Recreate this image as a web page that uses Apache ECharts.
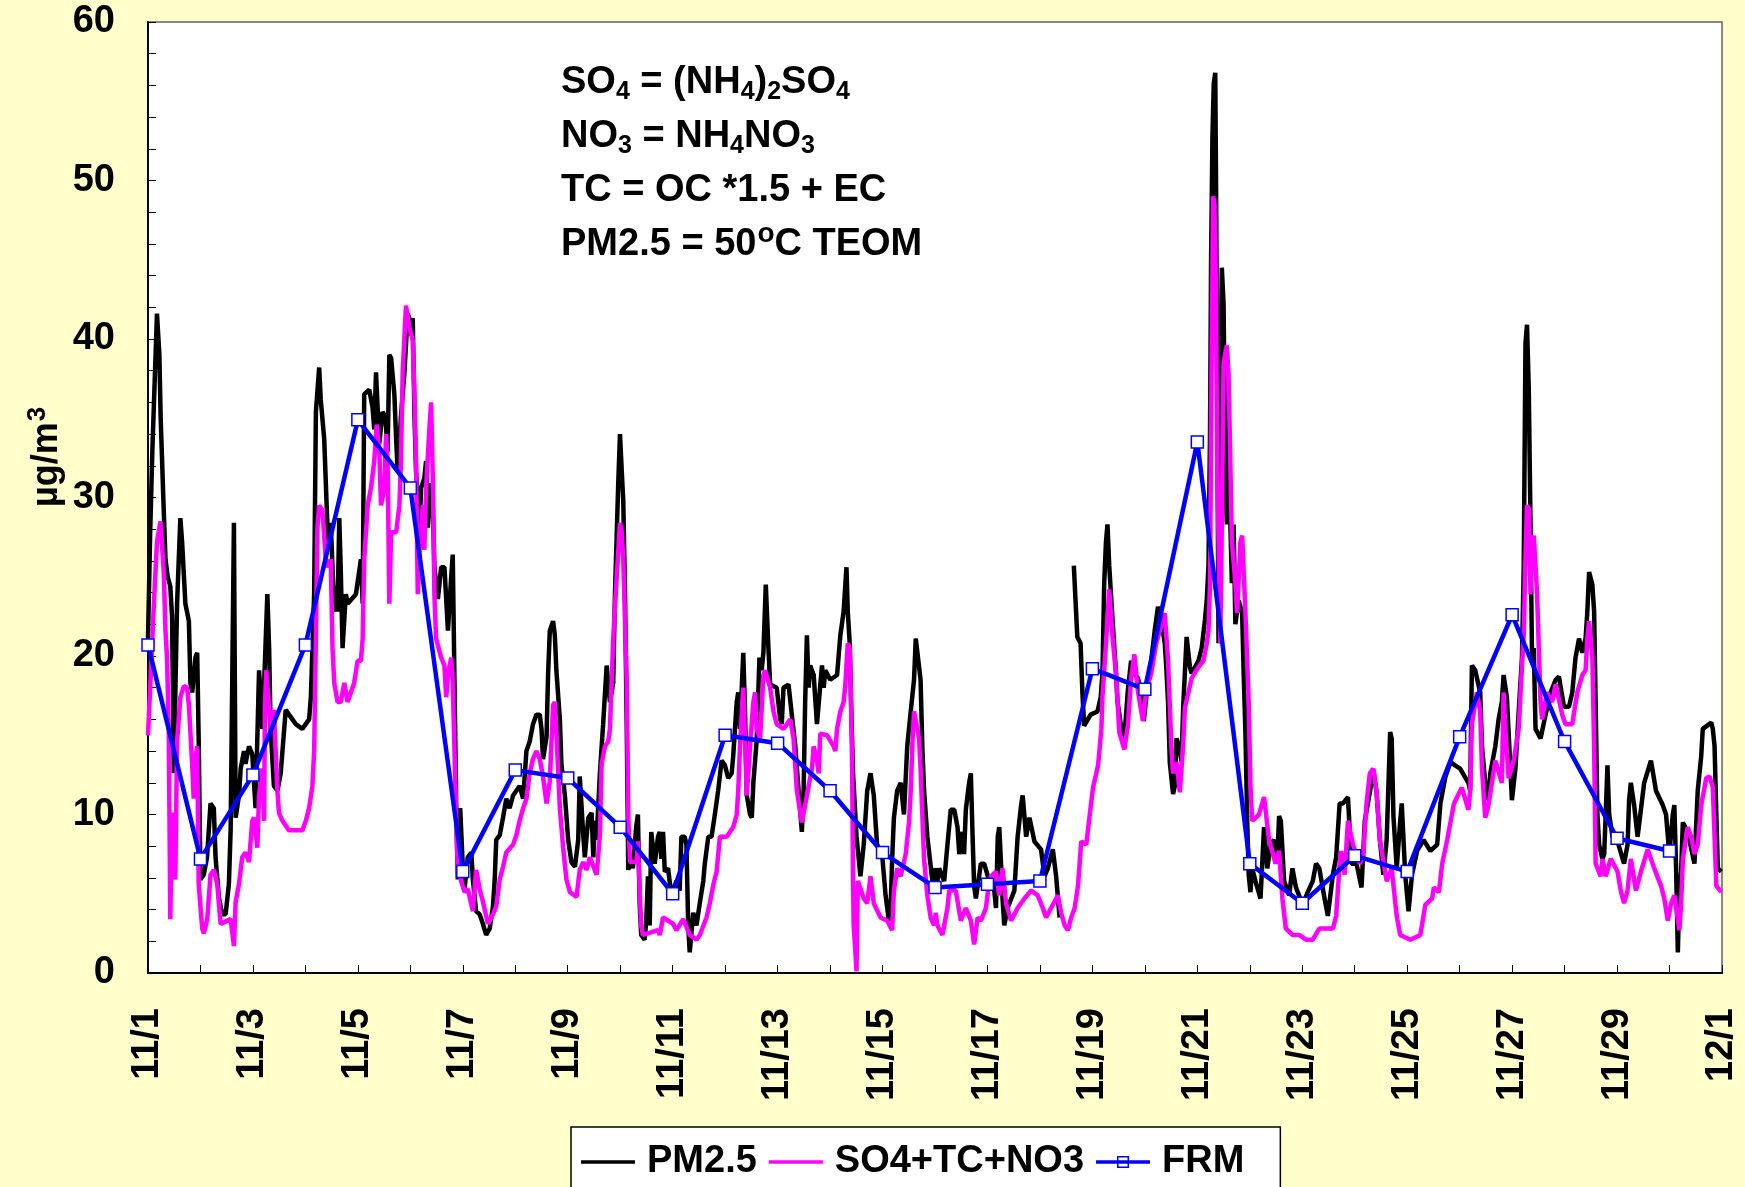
<!DOCTYPE html>
<html>
<head>
<meta charset="utf-8">
<script src="https://cdn.jsdelivr.net/npm/echarts@6/dist/echarts.min.js"></script>
<style>
html,body{margin:0;padding:0;background:#FFFFCC;}
#chart{width:1745px;height:1187px;}
</style>
</head>
<body>
<div id="chart"></div>
<script>
// x positions are hours since 11/1 00:00
const tickLabels = ['11/1','11/3','11/5','11/7','11/9','11/11','11/13','11/15','11/17','11/19','11/21','11/23','11/25','11/27','11/29','12/1'];

const pm25 = [
[0,21.1],[1,27.8],[2,33],[4.1,41.6],[5.2,39],[5.8,35],[7,30],[8,26.1],[9,25],[10.2,24.4],[11,22.5],[11.8,12.6],[13.3,23.3],[14.8,28.7],[15.6,27.2],[17.1,23.3],[18.7,22.2],[19.4,18.3],[20.2,17.7],[21.7,19.9],[22.5,20.2],[23.2,14.6],[24,5.9],[25.5,6.2],[27,7.3],[28.6,10.7],[30.1,10.4],[30.9,7.3],[32.4,4.8],[33.9,3.7],[35.5,3.7],[37,5.6],[37.8,9.0],[38.5,9.0],[39.3,28.4],[40.1,9.8],[41.6,11.2],[42.4,12.9],[43.9,14.0],[44.6,13.2],[46.2,14.3],[47.7,13.8],[49.2,10.4],[50.8,19.1],[52.3,15.4],[53.5,19.7],[54.6,23.9],[55.4,20.5],[56.1,15.4],[57.6,11.8],[59.2,11.5],[60.7,12.6],[61.5,14.0],[63,16.6],[64.5,16.3],[67.6,15.7],[70.6,15.4],[73.7,16.0],[74.5,17.4],[76,23.9],[76.8,35.4],[78.3,38.2],[79,36.2],[80.6,33.7],[82.1,28.1],[82.9,26.7],[83.6,28.4],[85.2,22.8],[85.9,24.4],[86.7,22.8],[87.5,28.7],[88.2,25.3],[89,20.5],[90.5,23.9],[91.3,23.3],[95.1,23.9],[97.4,26.1],[98.2,23.3],[98.9,36.5],[101.2,36.8],[102.7,35.7],[103.5,34.3],[104.3,37.9],[105.8,33.4],[107.3,35.4],[108.6,35.1],[109.6,32.9],[110.4,39.0],[111.2,38.8],[112.7,36.5],[113.5,33.7],[114.2,31.7],[115.7,35.1],[117.3,37.9],[118.8,41.6],[120.3,41.0],[121.1,41.3],[121.9,35.1],[122.6,31.7],[124.2,27.8],[124.9,30.6],[126.4,31.2],[127.2,32.3],[128,28.1],[129.5,30.9],[130.3,29.5],[131,25.6],[132.6,23.6],[134.1,25.6],[135.6,25.6],[137.2,21.6],[138.7,25.0],[139.4,26.4],[140.2,18.3],[141,10.4],[141.7,5.9],[142.8,10.4],[144,6.7],[144.8,5.3],[146.3,7.3],[147.9,7.6],[148.6,5.9],[150.1,3.9],[151.7,3.7],[153.2,3.1],[154.7,2.4],[156.3,2.8],[157.8,4.2],[158.6,5.9],[159.3,8.4],[160.9,8.7],[162.4,9.8],[163.9,11.0],[165.4,10.4],[167,11.2],[170,11.8],[171.6,11.0],[173.1,14.0],[174.6,14.6],[176.1,15.7],[177.7,16.3],[179.2,16.3],[180,15.4],[180.7,13.5],[182.3,14.9],[183,18.8],[183.8,21.6],[185.3,22.2],[186.1,21.3],[186.8,19.1],[188.4,16.0],[189.1,13.2],[190.7,11.2],[192.2,8.4],[193.7,7.0],[195.3,6.7],[196.8,8.4],[197.5,12.4],[199.1,8.7],[199.8,7.3],[201.4,9.8],[202.9,10.1],[203.7,7.3],[204.4,9.6],[205.2,8.4],[206.7,12.6],[208.2,15.7],[209.8,19.4],[210.5,19.4],[211.3,17.1],[212.8,18.3],[213.6,23.9],[215.1,30.9],[215.9,34.0],[216.7,31.7],[217.4,29.8],[218.2,23.9],[219,15.4],[219.7,6.5],
[221,7.5],[221.8,6.6],[223.3,9.2],[224.1,10.0],[224.9,4.4],[225.6,2.4],[227.2,2.1],[227.9,3.3],[228.7,6.1],[229.5,3.0],[230.2,8.9],[231.8,6.9],[233.3,8.6],[234.1,8.9],[234.8,7.2],[235.6,8.9],[236.4,6.4],[237.9,6.6],[239.4,4.9],[241.7,5.8],[243.2,5.2],[244,8.6],[245.5,8.6],[246.3,8.1],[247.1,3.0],[247.8,1.3],[249.4,3.8],[250.9,3.0],[252.4,4.4],[254,5.8],[254.7,6.9],[256.3,8.6],[257.8,8.6],[259.3,10.0],[260.8,11.5],[262.4,13.4],[263.9,13.1],[265.4,12.3],[267,12.6],[267.7,13.7],[269.3,17.1],[270,17.7],[270.8,15.4],[271.6,15.4],[272.3,20.2],[273.1,16.5],[273.9,11.2],[275.4,10.0],[276.2,9.8],[276.9,12.0],[278.4,14.6],[279.7,19.9],[280.7,19.1],[281.5,20.2],[282.6,24.5],[283,24.5],[283.8,20.5],[284.6,18.2],[287.6,18.0],[289.2,16.0],[289.9,15.7],[290.7,18.0],[293,18.2],[294.5,16.3],[296.1,14.3],[297.6,11.5],[299.1,8.9],[299.9,11.5],[300.6,17.1],[301.4,21.3],[302.2,18.0],[302.9,19.4],[304.5,18.8],[306,15.7],[306.8,15.7],[308.3,19.4],[309.1,18.0],[309.8,19.1],[312.1,18.5],[315.2,18.8],[316.7,21.3],[318.2,22.8],[319.5,25.6],[320.1,22.8],[321,20.8],[321.6,17.1],[322.5,12.6],[324.1,8.6],[325.9,6.1],[327.4,8.1],[329,11.5],[330.5,12.6],[332,11.2],[333.5,8.1],[335.8,7.5],[337.4,4.9],[338.9,3.3],[339.7,4.1],[340.4,7.2],[341.2,9.8],[342.7,11.5],[344.3,12.0],[345.8,10.0],[347.3,14.3],[348.9,16.5],[350.4,18.5],[351.2,21.1],[351.9,21.1],[353.4,18.5],[354.2,14.3],[355,11.5],[356.5,8.6],[358.8,5.8],[360.3,6.6],[361.1,5.8],[361.9,6.6],[364.2,5.8],[365.7,8.1],[367.2,10.3],[368.8,10.3],[370.3,9.2],[371.1,7.5],[372.6,8.9],[373.3,7.5],[374.1,10.3],[375.6,12.0],[376.4,12.6],[377.2,8.6],[377.9,5.5],[378.7,4.7],[381,6.9],[382.5,6.9],[384.8,5.8],[387.1,5.2],[387.9,4.1],[388.7,8.6],[389.4,9.2],[390.2,6.9],[390.9,4.7],[391.7,3.0],[393.2,4.1],[396.3,5.2],[397.8,8.6],[399.4,10.6],[400.1,11.2],[401.7,8.6],[403.2,9.8],[405.5,8.3],[408.5,7.8],[410.1,6.1],[411.6,6.6],[413.9,7.8],[415.4,6.1],[417,3.5],[420,null],
[423.5,25.7],[425.1,21.2],[426.6,20.8],[427.4,17.8],[428.2,15.6],[431.2,16.3],[434.3,16.5],[435.8,17.4],[436.6,18.9],[437.4,24.6],[438.2,27.2],[438.9,28.3],[439.7,25.7],[441.2,22.3],[442.8,18.9],[443.5,17.1],[445.1,15.6],[446.6,14.8],[448.2,17.8],[449.7,19.7],[451.2,18.9],[452.8,18.6],[454.3,17.8],[455.5,15.9],[456.6,17.4],[458.2,18.9],[460.5,21.6],[462,23.1],[463.5,22.3],[465.1,20.8],[465.8,19.3],[466.6,17.1],[467.4,13.3],[468.9,11.3],[469.7,11.8],[470.5,14.8],[472,14.1],[472.8,13.3],[473.5,16.7],[475.1,21.2],[476.6,19.3],[477.4,18.9],[480.5,19.7],[482,20.5],[483.5,22.3],[484.3,23.5],[485.1,25.7],[485.8,34.0],[486.3,45.2],[486.9,52.7],[487.5,56.1],[488.2,56.8],[488.6,49.0],[489.1,35.8],[489.7,20.8],[490.5,35.8],[491.2,44.5],[492,42.2],[492.8,32.1],[493.5,28.3],[494.3,35.8],[495.1,28.3],[495.8,24.6],[496.6,28.3],[497.4,22.0],[498.9,23.5],[500.5,22.7],[501.2,18.9],[502,15.2],[502.8,9.6],[503.5,6.2],[504.3,5.1],[505.1,6.6],[506.6,5.8],[508.9,4.7],[510.5,9.2],[512,6.6],[513.5,8.1],[515.1,8.4],[516.6,7.3],[517.4,9.9],[518.2,9.6],[519.7,5.8],[522,4.9],[523.5,6.6],[525.1,5.4],[528.2,4.3],[530.5,5.1],[532.8,5.8],[534.3,6.9],[535.8,6.6],[538.2,4.7],[539.7,3.6],[542,6.2],[543.5,7.3],[545.1,10.7],[546.6,10.7],[548.9,11.1],[550.5,6.9],[552.8,6.9],[555.1,5.4],[556.6,9.6],[558.9,11.4],[560.5,12.8],[562,11.4],[563.5,8.4],[565.1,6.2],[566.6,8.4],[568.2,15.2],[568.9,14.8],[569.7,9.9],[571.2,6.6],[572.8,9.6],[573.5,10.7],[575.1,6.2],[576.6,3.9],[578.2,6.2],[580.5,7.7],[583.5,8.4],[586.6,7.7],[589.7,8.1],[591.2,10.7],[593.5,12.4],[595.8,13.3],
[597.9,13.1],[600.2,12.9],[604,12.0],[604.8,11.5],[605.6,19.4],[607.1,19.1],[609.4,17.7],[610.2,14.3],[611.7,12.0],[613.2,10.9],[614,12.6],[616.3,14.3],[617.8,16.0],[619.3,17.1],[620.1,18.8],[621.6,17.4],[623.2,12.9],[623.9,10.9],[625.5,12.9],[627,16.5],[628.5,19.9],[629.3,25.6],[630.1,39.7],[630.8,40.9],[631.6,36.9],[632.4,28.4],[633.1,19.9],[633.9,20.5],[634.7,15.4],[637,14.8],[639.3,16.3],[641.6,17.7],[643.9,18.5],[645.4,18.7],[647.7,16.8],[650,16.8],[651.5,17.7],[653,19.9],[654.6,21.1],[656.1,20.2],[657.6,21.1],[658.4,22.8],[659.2,25.3],[660.7,24.5],[661.5,22.8],[662.2,17.1],[663,10.0],[663.8,8.1],[665.3,7.2],[666.1,7.5],[666.8,10.0],[667.6,13.1],[668.4,10.0],[669.9,8.6],[672.2,8.3],[675.2,6.9],[676.8,8.1],[677.5,10.9],[678.3,12.0],[679.8,10.6],[681.4,8.6],[682.9,10.3],[684.4,12.0],[687.5,13.4],[689.8,11.5],[692.9,10.6],[694.4,10.0],[695.9,7.5],[697.5,10.0],[698.2,10.6],[699,6.6],[699.8,1.3],[700.5,5.2],[701.3,6.4],[702.1,9.5],[704.3,8.9],[707.4,6.9],[708.9,11.5],[710.5,13.7],[711.2,15.4],[715.1,15.8],[715.8,15.4],[716.6,14.3],[717.4,10.0],[718.1,6.6],[719.7,6.4]
];

const so4tcno3 = [
[0,15.0],[1.1,18.3],[2.6,23.0],[4.1,27.2],[5.7,28.5],[6.4,28.4],[7.2,25.3],[8,21.6],[8.7,19.9],[9.5,15.4],[10.2,3.4],[11,9.8],[11.8,10.1],[12.5,5.9],[13.3,14.6],[14.8,17.4],[16.4,18.1],[17.9,18.0],[18.7,16.9],[20.2,13.2],[20.9,11.0],[21.7,13.5],[22.5,14.3],[23.2,5.6],[24.8,2.8],[25.5,2.5],[27.1,3.4],[28.6,6.2],[30.1,6.5],[31.7,5.6],[33.2,3.1],[37.8,3.4],[39.3,1.7],[40.1,4.5],[41.6,5.6],[43.1,7.3],[44.6,7.6],[46.2,7.0],[47.7,9.6],[48.5,9.8],[50,7.9],[50.8,11.2],[52.3,12.9],[53.1,9.6],[53.5,16.9],[54.1,19.1],[55.4,16.6],[56.1,15.4],[57.6,16.6],[58.4,14.0],[59.2,11.5],[59.9,10.1],[61.5,9.6],[64.5,9.0],[67.6,9.0],[70.6,9.0],[72.2,9.6],[73.7,10.4],[75.2,11.8],[76,14.0],[76.8,21.1],[77.5,28.1],[78.3,29.5],[79.8,29.2],[81.3,26.1],[82.1,25.6],[83.6,26.1],[84.4,20.5],[85.2,18.3],[86.7,17.1],[88.2,17.1],[89.8,18.3],[91.3,17.1],[92.8,17.7],[94.3,18.3],[95.9,19.7],[97.4,19.7],[98.2,21.1],[98.9,26.1],[100.5,29.5],[102,30.6],[103.5,32.3],[104.6,34.6],[105.8,32.9],[106.6,29.5],[108.1,30.6],[108.9,34.0],[109.6,32.3],[110.4,23.3],[111.2,27.8],[113.5,27.8],[115,29.5],[115.7,32.3],[116.5,37.9],[118,42.1],[119.6,40.7],[121.1,39.9],[121.9,36.5],[122.6,32.3],[123.4,23.9],[124.2,26.7],[125.7,29.5],[126.4,26.7],[127.2,30.6],[128.7,34.3],[129.5,36.0],[130.3,31.2],[131,23.9],[131.8,21.1],[134.1,19.9],[135.6,19.4],[136.4,17.4],[137.2,18.8],[138.7,19.9],[139.4,18.3],[140.2,14.0],[141,9.8],[141.7,6.5],[144.8,5.1],[146.3,5.3],[148.6,3.9],[150.1,6.5],[151.7,5.3],[153.2,4.5],[155.5,3.1],[157.8,3.7],[159.3,4.2],[160.9,5.9],[162.4,6.7],[163.9,7.6],[167,8.1],[168.5,8.7],[170,9.6],[171.6,10.4],[173.1,11.0],[174.6,12.6],[176.1,13.5],[177.7,14.0],[179.2,13.5],[180.7,12.4],[182.3,10.7],[183.8,12.1],[185.3,16.9],[186.1,17.1],[186.8,15.2],[188.4,10.4],[189.9,7.9],[191.4,5.9],[193,5.1],[196,4.8],[197.5,6.5],[199.1,7.0],[200.6,6.5],[202.1,7.3],[205.2,6.2],[206.7,8.7],[207.5,13.2],[209,14.3],[210.5,14.6],[211.3,15.4],[212.8,21.1],[214.4,25.0],[215.9,28.4],[216.7,27.8],[217.4,26.1],[219,18.3],[219.7,9.8],[220.5,7.0],[223.5,7.0],
[224.1,8.3],[224.9,5.2],[225.6,3.0],[226.4,2.4],[233.3,2.7],[234.1,2.4],[235.6,3.5],[240.2,3.1],[241.7,2.7],[244.8,3.4],[247.8,2.4],[250.9,2.1],[252.4,2.4],[255.5,3.5],[257,4.4],[258.5,5.5],[260.1,6.4],[261.6,8.6],[264.7,8.6],[267.7,9.2],[269.3,10.0],[270,11.5],[270.8,14.3],[271.6,16.3],[272.3,18.0],[273.1,14.8],[273.9,11.2],[275.4,14.3],[276.9,17.1],[277.7,17.7],[278.4,15.4],[280,14.8],[281.5,18.8],[282.3,19.1],[284.6,18.0],[286.1,16.5],[287.6,15.7],[290.7,15.4],[293.8,16.0],[295.3,14.8],[296.8,11.5],[299.1,9.5],[301.4,11.2],[303.7,12.9],[304.5,14.3],[306,13.4],[306.8,12.6],[307.5,15.1],[310.6,15.0],[313.7,14.3],[314.4,14.0],[315.2,15.4],[316.7,16.5],[318.2,17.1],[319,18.2],[320.1,20.8],[321,20.5],[321.6,17.1],[322.1,12.9],[322.5,5.8],[322.8,3.0],[323.6,1.3],[324.1,0.1],[324.7,5.8],[325.6,5.8],[327.4,4.7],[329,4.4],[330.5,6.1],[332,4.4],[335.1,3.5],[338.1,3.3],[340.4,2.7],[341.2,5.2],[342.7,6.6],[344.3,6.1],[346.6,7.5],[348.1,9.5],[348.9,11.5],[349.6,14.3],[350.4,16.5],[351.9,15.4],[352.7,14.8],[353.4,12.9],[354.2,10.0],[355,7.2],[356.5,4.9],[358,3.5],[359.6,3.0],[360.3,3.8],[361.1,3.0],[363.4,2.4],[364.2,2.4],[365.7,4.1],[366.5,5.2],[369.5,5.2],[371.8,3.3],[374.1,4.1],[376.4,3.3],[377.9,1.8],[379.5,3.5],[381,3.3],[383.3,4.1],[384.8,5.8],[385.6,6.1],[387.9,6.4],[389.4,4.9],[390.9,6.6],[392.5,4.4],[394.8,3.3],[397.8,4.1],[400.9,4.7],[404,5.2],[407,4.9],[409.3,4.1],[410.8,3.5],[413.1,4.1],[416.2,4.9],[417.7,3.8],[419.3,3.0],[420.8,2.7],[422.3,3.5],[423.9,4.1],[425.4,5.5],[426.9,8.3],[429.2,8.1],[430.8,10.0],[432.3,11.7],[434.6,13.1],[436.1,15.4],
[436.6,17.4],[438.2,20.8],[439.7,24.2],[441.2,21.2],[442.8,18.9],[444.3,15.2],[446.6,14.1],[448.2,15.6],[449.7,18.6],[451.2,20.1],[452.8,17.8],[455.1,15.9],[456.6,17.8],[458.9,18.9],[461.2,20.8],[464.3,22.3],[465.1,22.7],[466.6,19.7],[468.2,14.1],[468.9,12.6],[470.5,13.3],[472,11.4],[473.5,14.4],[474.3,16.7],[477.4,18.6],[480.5,19.3],[482.8,19.7],[484.3,20.8],[485.1,21.6],[485.8,24.6],[486.6,39.6],[487.2,49.0],[487.8,48.6],[488.5,43.3],[489.1,32.1],[490.5,20.8],[491.2,28.3],[492,38.5],[493.5,39.6],[494.3,37.7],[495.1,32.1],[495.8,27.2],[497.4,24.6],[498.2,22.7],[499.7,27.2],[500.5,27.6],[502,22.7],[503.5,17.1],[504.3,11.8],[505.1,9.6],[508.2,10.0],[510.5,11.1],[512.8,8.4],[515.8,6.9],[517.4,7.7],[518.9,4.7],[520.5,2.8],[523.5,2.4],[526.6,2.4],[529.7,2.1],[532.8,2.1],[535.8,2.8],[538.9,2.8],[542,2.8],[543.5,3.6],[545.1,6.9],[545.8,7.7],[547.4,6.2],[548.9,9.6],[551.2,8.1],[554.3,6.9],[555.8,7.3],[557.4,10.7],[558.9,12.6],[560.5,12.9],[562,11.4],[563.5,8.4],[566.6,5.8],[568.9,6.6],[571.2,3.6],[572.8,2.4],[577.4,2.1],[582,2.4],[584.3,4.3],[587.4,4.7],[588.2,5.4],[590.5,5.1],[592,6.9],[594.3,8.4],[597.4,10.7],
[601,11.7],[604,10.3],[604.8,11.5],[605.6,15.7],[607.9,17.7],[609.4,16.5],[610.2,12.9],[611.7,9.8],[613.2,10.6],[616.3,13.4],[619.3,12.0],[620.1,17.7],[620.9,15.4],[622.4,12.3],[624.7,13.4],[627,15.4],[628.5,19.4],[629.3,21.3],[630.1,26.2],[630.8,29.5],[631.6,29.3],[632.4,23.9],[633.1,27.0],[633.9,27.6],[635.4,23.9],[637,17.1],[637.7,16.0],[640,17.7],[642.3,17.1],[643.9,18.2],[646.9,16.3],[648.4,15.7],[651.5,15.7],[653.8,17.7],[656.1,18.8],[657.6,19.1],[658.4,21.1],[659.2,22.2],[660.7,19.9],[661.5,14.3],[662.2,6.9],[664.5,6.1],[665.3,7.2],[666.8,6.1],[669.1,7.2],[672.2,6.4],[673.7,5.2],[675.2,4.4],[676.8,5.2],[678.3,7.2],[680.6,5.2],[682.9,6.4],[686,7.8],[689,6.6],[692.1,5.5],[693.6,4.7],[695.2,3.3],[696.7,4.4],[698.2,4.9],[700.5,2.7],[701.3,4.4],[702.1,7.2],[704.3,9.2],[705.9,8.6],[707.4,7.5],[708.9,8.1],[710.5,10.6],[712.8,12.3],[714.3,12.4],[715.8,11.7],[716.6,8.6],[717.4,5.5],[719.7,5.1]
];

const frmHours = [0,24,48,72,96,120,144,168,192,216,240,264,288,312,336,360,384,408,432,456,480,504,528,552,576,600,624,648,672,696];
const frmValues = [20.7,7.2,12.5,20.7,34.9,30.6,6.4,12.8,12.3,9.2,5.0,15.0,14.5,11.5,7.6,5.4,5.6,5.8,19.2,17.9,33.5,6.9,4.4,7.4,6.4,14.9,22.6,14.6,8.5,7.7];

const FONT = '"Liberation Sans", Arial, Helvetica, sans-serif';
// legend glyphs: a plain line, and a line through a hollow square
const LINE_ICON = 'path://M0,0L0.01,0L0.01,0.01Z M0,5.25L54,5.25L54,8.75L0,8.75Z M0,14L0.01,14L0.01,13.99Z';
const FRM_ICON = 'path://M0,0L0.01,0L0.01,0.01Z M0,5.25L54,5.25L54,8.75L0,8.75Z M21,1L33,1L33,13L21,13Z M22.5,2.5L22.5,11.5L31.5,11.5L31.5,2.5Z M0,14L0.01,14L0.01,13.99Z';

const chart = echarts.init(document.getElementById('chart'), null, {renderer: 'canvas'});

const option = {
  backgroundColor: '#FFFFCC',
  animation: false,
  grid: {left: 148, right: 23, top: 22, bottom: 214, show: true, backgroundColor: '#FFFFFF', borderColor: '#606060', borderWidth: 1.5},
  xAxis: {
    type: 'value', min: 0, max: 720, interval: 24,
    axisLine: {onZero: false, lineStyle: {color: '#000', width: 2}},
    axisTick: {show: true, inside: true, length: 8, lineStyle: {color: '#000', width: 1}},
    splitLine: {show: false},
    axisLabel: {
      rotate: 90, margin: 35, fontSize: 38, fontWeight: 'bold', fontFamily: FONT, color: '#000',
      formatter: function (v) { return (v % 48 === 0) ? tickLabels[v / 48] : ''; }
    }
  },
  yAxis: {
    type: 'value', min: 0, max: 60, interval: 10,
    axisLine: {show: true, lineStyle: {color: '#000', width: 2}},
    axisTick: {show: true, inside: true, length: 8, lineStyle: {color: '#000', width: 1}},
    minorTick: {show: true, splitNumber: 5, length: 8, lineStyle: {color: '#000', width: 1}},
    splitLine: {show: false},
    axisLabel: {margin: 33, fontSize: 38, fontWeight: 'bold', fontFamily: FONT, color: '#000'}
  },
  legend: {
    left: 571, top: 1127, orient: 'horizontal',
    itemWidth: 54, itemHeight: 14, itemGap: 12,
    padding: [16, 36, 40, 10],
    backgroundColor: '#FFFFFF', borderColor: '#000', borderWidth: 1.5, borderRadius: 0,
    itemStyle: {borderWidth: 0},
    textStyle: {fontSize: 38, fontWeight: 'bold', fontFamily: FONT, color: '#000', padding: [0, 0, 0, 7]},
    data: [
      {name: 'PM2.5', icon: LINE_ICON, itemStyle: {color: '#000000', borderWidth: 0}},
      {name: 'SO4+TC+NO3', icon: LINE_ICON, itemStyle: {color: '#FF00FF', borderWidth: 0}},
      {name: 'FRM', icon: FRM_ICON, itemStyle: {color: '#0000FF', borderWidth: 0}}
    ]
  },
  series: [
    {name: 'PM2.5', type: 'line', data: pm25, symbol: 'none', connectNulls: false,
     lineStyle: {color: '#000000', width: 4.5}, itemStyle: {color: '#000000'}, z: 2},
    {name: 'SO4+TC+NO3', type: 'line', data: so4tcno3, symbol: 'none',
     lineStyle: {color: '#FF00FF', width: 4.5}, itemStyle: {color: '#FF00FF'}, z: 3},
    {name: 'FRM', type: 'line', data: frmHours.map(function (h, i) { return [h, frmValues[i]]; }),
     symbol: 'rect', symbolSize: 12,
     lineStyle: {color: '#0000FF', width: 4.5},
     itemStyle: {color: '#FFFFFF', borderColor: '#0000FF', borderWidth: 1.5}, z: 4}
  ],
  graphic: [
    {
      type: 'text', left: 561, top: 56, z: 10,
      style: {
        text: '{n|SO}{s|4}{n| = (NH}{s|4}{n|)}{s|2}{n|SO}{s|4}\n' +
              '{n|NO}{s|3}{n| = NH}{s|4}{n|NO}{s|3}\n' +
              '{n|TC = OC *1.5 + EC}\n' +
              '{n|PM2.5 = 50}{p|o}{n|C TEOM}',
        rich: {
          n: {fontSize: 38, fontWeight: 'bold', fontFamily: FONT, fill: '#000', lineHeight: 54, verticalAlign: 'top', padding: [8, 0, 0, 0]},
          s: {fontSize: 25, fontWeight: 'bold', fontFamily: FONT, fill: '#000', verticalAlign: 'top', padding: [24, 0, 0, 0]},
          p: {fontSize: 28, fontWeight: 'bold', fontFamily: FONT, fill: '#000', verticalAlign: 'top', padding: [2, 0, 0, 1]}
        }
      }
    },
    {
      type: 'text', x: 46, y: 457, rotation: Math.PI / 2, z: 10,
      style: {
        text: '{n|µg/m}{p|3}',
        align: 'center', verticalAlign: 'middle',
        rich: {
          n: {fontSize: 36, fontWeight: 'bold', fontFamily: FONT, fill: '#000', lineHeight: 42, verticalAlign: 'top', padding: [4, 0, 0, 0]},
          p: {fontSize: 26, fontWeight: 'bold', fontFamily: FONT, fill: '#000', verticalAlign: 'top', padding: [0, 0, 0, 1]}
        }
      }
    }
  ]
};
chart.setOption(option);
</script>
</body>
</html>
